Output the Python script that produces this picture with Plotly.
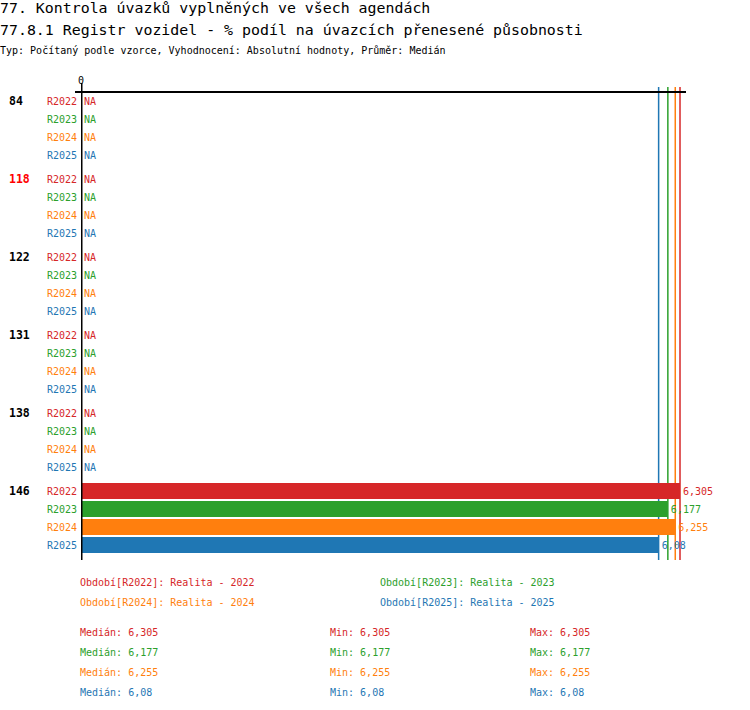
import numpy as np
import plotly.graph_objects as go

# data
groups = ["84", "118", "122", "131", "138", "146"]
highlight = "118"
periods = ["R2022", "R2023", "R2024", "R2025"]
period_names = ["Realita - 2022", "Realita - 2023", "Realita - 2024", "Realita - 2025"]
colors = ["#d62728", "#2ca02c", "#ff7f0e", "#1f77b4"]

vals_r2022 = [None, None, None, None, None, 6.305]
vals_r2023 = [None, None, None, None, None, 6.177]
vals_r2024 = [None, None, None, None, None, 6.255]
vals_r2025 = [None, None, None, None, None, 6.08]
values = [vals_r2022, vals_r2023, vals_r2024, vals_r2025]

title1 = "77. Kontrola úvazků vyplněných ve všech agendách"
title2 = "77.8.1 Registr vozidel - % podíl na úvazcích přenesené působnosti"
subtitle = "Typ: Počítaný podle vzorce, Vyhodnocení: Absolutní hodnoty, Průměr: Medián"

W, H = 750, 710
ML, MT = 81, 92
PW, PH = 686 - 81, 560 - 92
MR, MB = W - ML - PW, H - MT - PH
FONT = "DejaVu Sans Mono"
PAD = 2  # annotation box padding

n_per = len(periods)
group_step = n_per + 1 / 3


def ypos(g, r):
    return g * group_step + r


def fmt(v):
    return f"{v:.3f}".rstrip("0").rstrip(".").replace(".", ",")


fig = go.Figure()
for i, p in enumerate(periods):
    fig.add_trace(go.Bar(
        orientation="h",
        y=[ypos(g, i) for g in range(len(groups))],
        x=values[i],
        width=16 / 18,
        marker=dict(color=colors[i], line=dict(width=0)),
        text=[fmt(v) if v is not None else "" for v in values[i]],
        textposition="outside",
        outsidetextfont=dict(color=colors[i], size=10, family=FONT),
        cliponaxis=False,
        hoverinfo="skip",
        showlegend=False,
    ))

xmax = max(v for s in values for v in s if v is not None) * 1.01

ann = []
shapes = []
for g, grp in enumerate(groups):
    ann.append(dict(
        x=0, xref="paper", y=ypos(g, 0), yref="y", text=f"<b>{grp}</b>",
        xanchor="left", xshift=-(ML - 9) - PAD, showarrow=False,
        font=dict(size=11.5, family=FONT, color="#ff0000" if grp == highlight else "black")))
    for i, p in enumerate(periods):
        ann.append(dict(
            x=0, xref="paper", y=ypos(g, i), yref="y", text=p,
            xanchor="right", xshift=-2, showarrow=False,
            font=dict(size=10, family=FONT, color=colors[i])))
        if values[i][g] is None:
            ann.append(dict(
                x=0, xref="x", y=ypos(g, i), yref="y", text="NA",
                xanchor="left", xshift=1, showarrow=False,
                font=dict(size=10, family=FONT, color=colors[i])))

# median lines
for i, p in enumerate(periods):
    med = np.median([v for v in values[i] if v is not None])
    shapes.append(dict(type="line", xref="x", yref="paper", x0=med, x1=med,
                       y0=0, y1=1 + 5 / PH, layer="below",
                       line=dict(color=colors[i], width=1.5)))

# axis lines
shapes.append(dict(type="line", xref="paper", yref="paper", x0=-6 / PW, x1=1,
                   y0=1, y1=1, line=dict(color="black", width=2)))
shapes.append(dict(type="line", xref="x", yref="paper", x0=0, x1=0,
                   y0=0, y1=1 + 9 / PH, line=dict(color="black", width=3)))
ann.append(dict(x=0, xref="x", y=1, yref="paper", yshift=12, text="0",
                showarrow=False, yanchor="middle",
                font=dict(size=10, family=FONT, color="black")))


# titles (positions in pixels from the top-left corner)
def top_text(txt, ypix, size):
    return dict(x=0, xref="paper", xshift=-ML - PAD, xanchor="left", y=1, yref="paper",
                yanchor="middle", yshift=MT - ypix, text=txt, showarrow=False,
                font=dict(size=size, family=FONT, color="black"))


ann.append(top_text(title1, 8, 14.9))
ann.append(top_text(title2, 30, 14.9))
ann.append(top_text(subtitle, 50, 10))


# legend and stats below
def bottom_text(txt, xpix, ypix, color):
    return dict(x=0, xref="paper", xshift=xpix - ML - PAD, xanchor="left", y=0, yref="paper",
                yanchor="middle", yshift=MT + PH - ypix, text=txt, showarrow=False,
                font=dict(size=10, family=FONT, color=color))


leg_x = [80, 380, 80, 380]
leg_y = [582, 582, 602, 602]
for i, p in enumerate(periods):
    ann.append(bottom_text(f"Období[{p}]: {period_names[i]}", leg_x[i], leg_y[i], colors[i]))

for i, p in enumerate(periods):
    s = [v for v in values[i] if v is not None]
    yy = 632 + 20 * i
    ann.append(bottom_text(f"Medián: {fmt(np.median(s))}", 80, yy, colors[i]))
    ann.append(bottom_text(f"Min: {fmt(min(s))}", 330, yy, colors[i]))
    ann.append(bottom_text(f"Max: {fmt(max(s))}", 530, yy, colors[i]))

fig.update_layout(
    width=W, height=H,
    margin=dict(l=ML, r=MR, t=MT, b=MB, pad=0),
    plot_bgcolor="white", paper_bgcolor="white",
    barmode="overlay",
    xaxis=dict(range=[0, xmax], visible=False, fixedrange=True),
    yaxis=dict(range=[(len(groups) - 1) * group_step + n_per - 1 + 0.83, -0.5],
               visible=False, fixedrange=True),
    annotations=ann,
    shapes=shapes,
    font=dict(family=FONT),
)

# drop the page's default body margin so the chart sits at the window corner
fig.write_html("out.html", config={"displayModeBar": False},
               post_script="document.body.style.margin='0';")
